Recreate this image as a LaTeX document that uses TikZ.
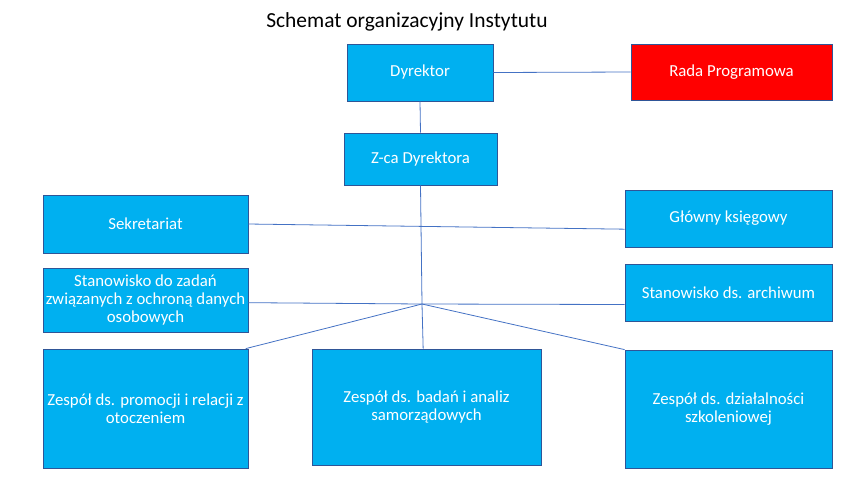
\documentclass[tikz,border=0pt]{standalone}
\usepackage{fontspec}
\setmainfont{Carlito}
\definecolor{boxfill}{HTML}{00B0F0}
\definecolor{boxline}{HTML}{2F5597}
\definecolor{conn}{HTML}{4472C4}
\definecolor{radared}{HTML}{FF0000}
\tikzset{
  box/.style={draw=boxline, line width=0.6pt, fill=boxfill, text=white, align=center, inner sep=0pt, font=\fontsize{12.6}{13.6}\selectfont},
  conline/.style={draw=conn, line width=0.6pt}
}
\begin{document}
\begin{tikzpicture}[x=0.75pt,y=-0.75pt]
\useasboundingbox (0,0) rectangle (853,480);
\node[font=\fontsize{16.1}{18}\selectfont] (title) at (407,22) {Schemat organizacyjny Instytutu};
\node[box, minimum width=109.5pt, minimum height=42.75pt] (dyr) at (420,72.5) {Dyrektor};
\node[box, fill=radared, minimum width=150.75pt, minimum height=42pt] (rada) at (731.5,72) {Rada Programowa};
\node[box, minimum width=114.75pt, minimum height=39pt] (zca) at (420.5,159) {Z-ca Dyrektora};
\node[box, minimum width=153.75pt, minimum height=43.5pt] (sek) at (145.5,224) {Sekretariat};
\node[box, minimum width=155.25pt, minimum height=42.75pt] (glo) at (728.5,218.5) {Główny księgowy};
\node[box, minimum width=153.75pt, minimum height=48pt] (sta) at (145.5,300) {Stanowisko do zadań\\związanych z ochroną danych\\osobowych};
\node[box, minimum width=155.25pt, minimum height=42.75pt] (arc) at (728.5,292.5) {Stanowisko ds. archiwum};
\node[box, minimum width=153.75pt, minimum height=89.25pt] (pro) at (145.5,408.5) {Zespół ds. promocji i relacji z\\otoczeniem};
\node[box, minimum width=171.75pt, minimum height=87pt] (bad) at (426.5,407) {Zespół ds. badań i analiz\\samorządowych};
\node[box, minimum width=155.25pt, minimum height=88.5pt] (dzi) at (728.5,409) {Zespół ds. działalności\\szkoleniowej};
\coordinate (hub) at (422,304);
\draw[conline] (dyr.south) -- (zca.north);
\draw[conline] (dyr.east) -- (rada.west);
\draw[conline] (sek.east) -- ([yshift=-8pt]glo.west);
\draw[conline] (zca.south) -- (hub) -- ([xshift=-2.5pt]bad.north);
\draw[conline] ([yshift=-2pt]sta.east) -- (hub) -- ([yshift=-9pt]arc.west);
\draw[conline] (hub) -- ([xshift=-2pt]pro.north east);
\draw[conline] (hub) -- (dzi.north west);
\end{tikzpicture}
\end{document}
